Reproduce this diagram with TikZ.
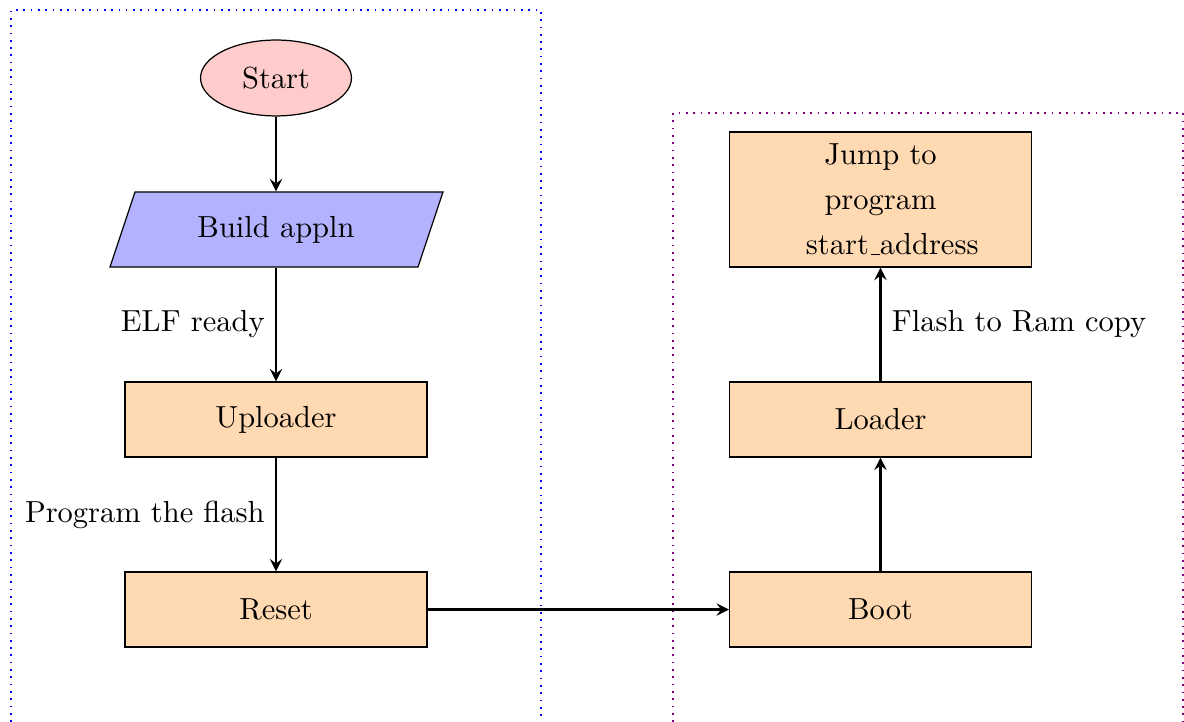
\documentclass[tikz,border=0pt]{standalone}
\usetikzlibrary{shapes.geometric,arrows}
% low rule used for the underscore in identifiers
\newcommand{\lowbar}{\leavevmode\kern.06em\vbox{\hrule width.3em}}
\begin{document}
\begin{tikzpicture}[x=0.328pt,y=-0.328pt,
  startstop/.style={ellipse,draw,fill=red!20,inner sep=0pt,minimum width=49.5pt,minimum height=24.9pt},
  iotext/.style={rectangle,inner sep=0pt,minimum width=101pt,minimum height=24.6pt},
  iobox/.style={draw,fill=blue!30},
  process/.style={rectangle,draw,fill=orange!30,minimum width=99pt,minimum height=24.6pt},
  arrow/.style={thick,->,>=stealth},
  frameline/.style={line width=0.55pt,dash pattern=on 0.55pt off 1.85pt}]
\useasboundingbox (0,0) rectangle (1184,722);

% left group frame
\draw[frameline,blue] (11,722) -- (11,10) -- (541,10) -- (541,722);
% right group frame
\draw[frameline,violet] (673,722) -- (673,113) -- (1183,113) -- (1183,722);

\node[startstop] (start) at (276,78) {Start};
% input/output parallelogram
\filldraw[iobox] (135,192) -- (443,192) -- (418,267) -- (110,267) -- cycle;
\node[iotext] (build) at (276,229.5) {Build appln};
\node[process] (upl) at (276,419.5) {Uploader};
\node[process] (reset) at (276,609.5) {Reset};
\node[process] (boot) at (880.5,609.5) {Boot};
\node[process] (loader) at (880.5,419.5) {Loader};
\node[process,minimum height=44.3pt,text width=48.9pt,align=center] (jump) at (880.5,199.5)
  {Jump to\\[2.8pt] program\\[2.8pt] start\lowbar address};

\draw[arrow] (start) -- (build);
\draw[arrow] (build) -- node[left] {ELF ready} (upl);
\draw[arrow] (upl) -- node[left] {Program the flash} (reset);
\draw[arrow] (reset) -- (boot);
\draw[arrow] (boot) -- (loader);
\draw[arrow] (loader) -- node[right] {Flash to Ram copy} (jump);
\end{tikzpicture}
\end{document}
